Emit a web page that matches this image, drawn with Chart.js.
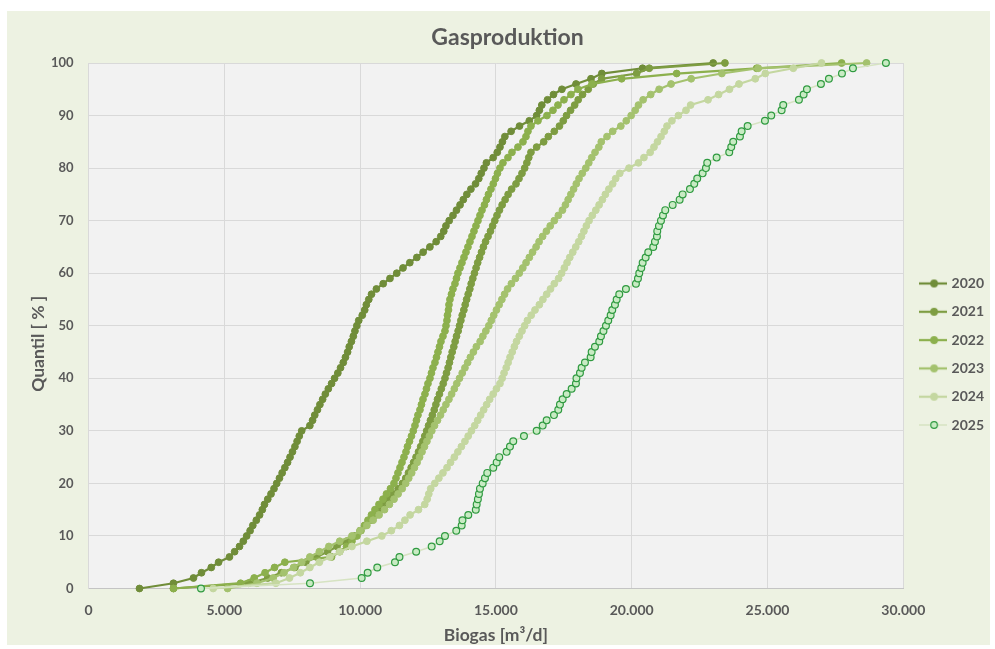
<!DOCTYPE html>
<html><head><meta charset="utf-8">
<script src="https://cdn.jsdelivr.net/npm/chart.js@4.4.1/dist/chart.umd.min.js"></script>
<style>
html,body{margin:0;padding:0;background:#fff;}
#wrap{position:relative;width:995px;height:649px;}
canvas{display:block;}
</style></head><body>
<div id="wrap"><canvas id="c" width="995" height="649"></canvas></div>
<script>
// ---- data ----
const QUANTIL = [0,1,2,3,4,5,6,7,8,9,10,11,12,13,14,15,16,17,18,19,20,21,22,23,24,25,26,27,28,29,30,31,32,33,34,35,36,37,38,39,40,41,42,43,44,45,46,47,48,49,50,51,52,53,54,55,56,57,58,59,60,61,62,63,64,65,66,67,68,69,70,71,72,73,74,75,76,77,78,79,80,81,82,83,84,85,86,87,88,89,90,91,92,93,94,95,96,97,98,99,100];
const YEARS = ['2020','2021','2022','2023','2024','2025'];
const BIOGAS_2020 = [1877,3128,3865,4160,4520,4790,5190,5380,5560,5700,5824,5950,6050,6180,6300,6400,6480,6600,6720,6830,6930,7030,7130,7230,7330,7420,7510,7600,7680,7760,7850,8150,8250,8330,8430,8520,8620,8720,8830,8950,9060,9180,9280,9380,9460,9540,9600,9680,9750,9810,9880,9950,10080,10170,10230,10320,10420,10600,10850,11100,11350,11580,11830,12090,12320,12570,12800,12970,13080,13160,13280,13420,13550,13680,13800,13930,14080,14250,14370,14460,14560,14650,14900,15050,15150,15240,15330,15560,15870,16230,16500,16600,16690,16900,17120,17430,17950,18500,18900,20400,23000];
const BIOGAS_2021 = [3130,5900,6600,7100,7600,8000,8400,8800,9150,9500,9800,10000,10200,10400,10580,10750,10920,11080,11230,11400,11560,11680,11780,11880,11970,12060,12150,12230,12310,12380,12450,12520,12590,12660,12730,12790,12850,12920,12990,13060,13125,13180,13240,13290,13340,13390,13450,13500,13550,13610,13660,13710,13760,13820,13870,13923,13980,14040,14090,14150,14210,14270,14330,14400,14470,14540,14620,14710,14800,14880,14960,15040,15130,15230,15340,15450,15580,15740,15850,15960,16060,16140,16210,16290,16500,16760,16930,17150,17340,17480,17600,17750,17900,18030,18190,18400,18584,18893,20182,20646,23433];
const BIOGAS_2022 = [3128,5600,6100,6500,6850,7230,8950,9250,9500,9700,9885,10032,10161,10290,10418,10547,10694,10842,10971,11118,11247,11321,11394,11468,11542,11615,11689,11744,11818,11891,11958,12020,12075,12130,12204,12259,12315,12388,12443,12499,12572,12627,12683,12756,12812,12867,12922,12977,13051,13125,13162,13198,13217,13254,13272,13308,13364,13419,13493,13548,13603,13677,13750,13824,13898,13971,14045,14119,14192,14266,14340,14413,14487,14579,14652,14726,14818,14903,14984,15057,15149,15260,15444,15591,15812,15996,16107,16180,16291,16549,16880,17101,17285,17506,17763,18021,18537,19630,21655,24600,27729];
const BIOGAS_2023 = [5120,6200,6800,7200,7550,7850,8150,8500,8850,9250,9700,10000,10250,10480,10700,10900,11080,11250,11400,11550,11680,11790,11900,12000,12100,12190,12280,12370,12460,12550,12640,12740,12850,12960,13060,13160,13270,13370,13470,13560,13660,13760,13860,13960,14060,14170,14280,14420,14520,14630,14740,14830,14920,15020,15120,15220,15320,15430,15570,15720,15860,15990,16110,16230,16350,16480,16590,16720,16860,17000,17150,17300,17450,17560,17660,17760,17860,17960,18060,18180,18310,18420,18530,18650,18790,18880,19090,19300,19600,19800,19980,20130,20250,20420,20700,21010,21450,22190,23320,24660,28650];
const BIOGAS_2024 = [4590,6900,7400,7800,8150,8500,8890,9250,9700,10250,10800,11150,11450,11650,11840,12150,12380,12470,12530,12600,12750,12900,13050,13200,13330,13470,13600,13730,13860,13980,14100,14220,14330,14440,14550,14660,14770,14900,15020,15150,15230,15300,15380,15450,15520,15600,15680,15760,15860,15960,16060,16160,16300,16440,16600,16730,16870,17010,17150,17310,17420,17520,17620,17720,17830,17940,18050,18150,18240,18330,18430,18550,18680,18800,18920,19030,19160,19300,19410,19560,19900,20250,20450,20680,20820,20950,21080,21200,21300,21480,21720,22000,22170,22810,23200,23600,23950,24550,24920,25950,26990];
const BIOGAS_2025 = [4142,8155,10058,10279,10632,11284,11450,12064,12635,12930,13125,13541,13740,13769,13983,14259,14292,14336,14376,14413,14513,14597,14682,14903,15028,15124,15396,15518,15639,16033,16501,16722,16869,17138,17296,17358,17458,17605,17789,17947,17966,18095,18157,18279,18488,18525,18647,18805,18868,18960,19052,19137,19225,19284,19384,19446,19542,19788,20156,20230,20278,20352,20403,20513,20609,20793,20856,20930,20941,21003,21077,21151,21235,21508,21765,21876,22145,22303,22413,22612,22733,22781,23127,23591,23665,23738,23985,24048,24269,24906,25138,25520,25579,26157,26330,26452,26967,27262,27741,28146,29360];
const X_TICK_LABELS = ['0','5.000','10.000','15.000','20.000','25.000','30.000'];
const Y_TICK_LABELS = ['0','10','20','30','40','50','60','70','80','90','100'];
const Y_TITLE = 'Quantil [ % ]';

// ---- style ----
const SERIES = [BIOGAS_2020, BIOGAS_2021, BIOGAS_2022, BIOGAS_2023, BIOGAS_2024, BIOGAS_2025];
const LINE_COLORS = ['#708d39', '#7e9d42', '#8cb04d', '#a4c26e', '#c4d7a0', '#d6e3c2'];
const POINT_FILL = ['#708d39', '#7e9d42', '#8cb04d', '#a4c26e', '#c4d7a0', '#c8ebc3'];
const POINT_EDGE = ['#708d39', '#7e9d42', '#8cb04d', '#a4c26e', '#c4d7a0', '#2f9a40'];
const FONT = 'Lato, "Open Sans", sans-serif';
const TXT = '#595959';

function makeIcon(i) {
  const c = document.createElement('canvas');
  c.width = 28; c.height = 10;
  const g = c.getContext('2d');
  g.strokeStyle = LINE_COLORS[i]; g.lineWidth = i === 5 ? 1.5 : 2.25;
  g.beginPath(); g.moveTo(0, 5); g.lineTo(28, 5); g.stroke();
  g.beginPath(); g.arc(15, 5, 3.3, 0, Math.PI * 2);
  g.fillStyle = POINT_FILL[i]; g.fill();
  g.lineWidth = 1.2; g.strokeStyle = POINT_EDGE[i]; g.stroke();
  return c;
}
const ICONS = YEARS.map((y, i) => makeIcon(i));

const datasets = YEARS.map((year, i) => ({
  label: year,
  data: SERIES[i].map((v, k) => ({x: v, y: QUANTIL[k]})),
  showLine: true,
  borderColor: LINE_COLORS[i],
  borderWidth: i === 5 ? 1.5 : 2.25,
  backgroundColor: POINT_FILL[i],
  pointBackgroundColor: POINT_FILL[i],
  pointBorderColor: POINT_EDGE[i],
  pointBorderWidth: i === 5 ? 1.2 : 1,
  pointRadius: 3.4,
  pointHoverRadius: 3.4,
  tension: 0,
  clip: false,
  order: 5 - i
}));

const bgPlugin = {
  id: 'bg',
  beforeDraw(chart) {
    const {ctx, chartArea: a} = chart;
    ctx.save();
    ctx.fillStyle = '#ffffff';
    ctx.fillRect(0, 0, chart.width, chart.height);
    ctx.fillStyle = '#edf2e2';
    ctx.fillRect(7, 11, 983, 634);
    ctx.fillStyle = '#f2f2f2';
    ctx.fillRect(a.left, a.top, a.right - a.left, a.bottom - a.top);
    ctx.restore();
  },
  afterDraw(chart) {
    // y axis title (Excel places it slightly below the axis centre)
    const {ctx, chartArea: a} = chart;
    ctx.save();
    ctx.translate(38, (a.top + a.bottom) / 2 + 18);
    ctx.rotate(-Math.PI / 2);
    ctx.fillStyle = TXT;
    ctx.font = 'bold 17.5px ' + FONT;
    ctx.textAlign = 'center';
    ctx.textBaseline = 'middle';
    ctx.fillText(Y_TITLE, 0, 0);
    ctx.restore();
  }
};
const shiftPlugin = {
  id: 'shift',
  afterLayout(chart) {
    const lg = chart.legend;
    if (lg) { lg.left += 4; lg.right += 4; lg.top += 26; lg.bottom += 26; }
    const t = chart.titleBlock;
    if (t) { t.left += 9; t.right += 9; }
  }
};

new Chart(document.getElementById('c'), {
  type: 'scatter',
  data: {datasets},
  plugins: [bgPlugin, shiftPlugin],
  options: {
    responsive: false,
    devicePixelRatio: 1,
    animation: false,
    layout: {padding: {top: 11, left: 7, right: 5, bottom: 3.5}},
    plugins: {
      tooltip: {enabled: false},
      title: {
        display: true, text: 'Gasproduktion', color: TXT,
        font: {family: FONT, size: 23, weight: 'bold'},
        padding: {top: 13, bottom: 11.4}
      },
      legend: {
        position: 'right',
        reverse: true,
        maxWidth: 86.7,
        labels: {
          usePointStyle: true,
          pointStyleWidth: 23,
          boxHeight: 10,
          padding: 14.3,
          color: TXT,
          font: {family: FONT, size: 14, weight: 'bold'},
          generateLabels(chart) {
            const items = Chart.defaults.plugins.legend.labels.generateLabels(chart);
            items.forEach(it => { it.pointStyle = ICONS[it.datasetIndex]; });
            return items;
          }
        }
      }
    },
    scales: {
      x: {
        type: 'linear', min: 0, max: 30000,
        afterFit(s) { s.height = 57; },
        ticks: {
          stepSize: 5000, padding: 13.5, color: TXT,
          font: {family: FONT, size: 14, weight: 'bold'},
          callback: (v) => X_TICK_LABELS[Math.round(v / 5000)]
        },
        grid: {color: '#d9d9d9', drawTicks: false},
        border: {color: '#c4c4c4'},
        title: {
          display: true, text: 'Biogas [m³/d]', color: TXT,
          font: {family: FONT, size: 17.5, weight: 'bold'},
          padding: {top: 0, bottom: 0}
        }
      },
      y: {
        type: 'linear', min: 0, max: 100,
        afterFit(s) { s.width = 81.5; },
        ticks: {
          stepSize: 10, padding: 15, color: TXT,
          font: {family: FONT, size: 13, weight: 'bold'},
          callback: (v) => Y_TICK_LABELS[Math.round(v / 10)]
        },
        grid: {color: '#d9d9d9', drawTicks: false},
        border: {color: '#d9d9d9'},
        title: {display: false}
      }
    }
  }
});
</script>
</body></html>
